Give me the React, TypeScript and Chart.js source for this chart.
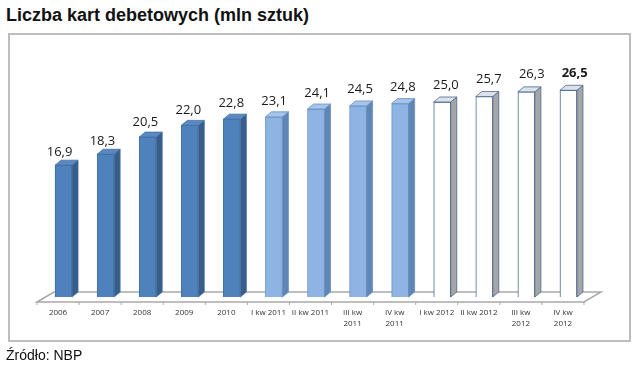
import { useEffect, useRef } from "react";
import { Chart, registerables } from "chart.js";

Chart.register(...registerables);

const titleText = "Liczba kart debetowych (mln sztuk)";
const sourceText = "Źródło: NBP";

const categories: (string | string[])[] = [
  "2006",
  "2007",
  "2008",
  "2009",
  "2010",
  "I kw 2011",
  "II kw 2011",
  ["III kw", "2011"],
  ["IV kw", "2011"],
  "I kw 2012",
  "II kw 2012",
  ["III kw", "2012"],
  ["IV kw", "2012"],
];

const values = [16.9, 18.3, 20.5, 22.0, 22.8, 23.1, 24.1, 24.5, 24.8, 25.0, 25.7, 26.3, 26.5];

const groups = [
  "annual", "annual", "annual", "annual", "annual",
  "q2011", "q2011", "q2011", "q2011",
  "q2012", "q2012", "q2012", "q2012",
];

const valueLabels = values.map((v) => v.toFixed(1).replace(".", ","));
const boldLabelIndexes = [12];

const yMin = 0;
const yMax = 30;

const palette: Record<string, { front: string; border: string; side: string; top: string }> = {
  annual: { front: "#4f81bd", border: "#41719f", side: "#385d8a", top: "#5a88c0" },
  q2011: { front: "#8db4e2", border: "#6990c2", side: "#5f86b6", top: "#a6c3e8" },
  q2012: { front: "#ffffff", border: "#4a6890", side: "#a6a6a6", top: "#dde2ea" },
};

const DEPTH_X = 6;
const DEPTH_Y = -5;
const BAR_SHIFT = 5.5;

const threeDPlugin = {
  id: "threeD",
  beforeDatasetsDraw(chart: any) {
    const { ctx, chartArea } = chart;
    const frontY = chartArea.bottom + 5;
    const fdx = 17;
    const fdy = -10;
    const left = chartArea.left;
    const right = chartArea.right;
    ctx.save();
    ctx.beginPath();
    ctx.moveTo(left, frontY);
    ctx.lineTo(left + fdx, frontY + fdy);
    ctx.lineTo(right + fdx, frontY + fdy);
    ctx.lineTo(right, frontY);
    ctx.closePath();
    ctx.fillStyle = "#ffffff";
    ctx.fill();
    ctx.strokeStyle = "#a9a9a9";
    ctx.lineWidth = 1.5;
    ctx.stroke();
    const n = categories.length;
    const cw = (right - left) / n;
    ctx.beginPath();
    for (let k = 0; k <= n; k++) {
      const tx = left + k * cw;
      ctx.moveTo(tx, frontY);
      ctx.lineTo(tx, frontY + 3);
    }
    ctx.lineWidth = 1;
    ctx.stroke();
    ctx.restore();
    ctx.save();
    ctx.translate(BAR_SHIFT, 0);
  },
  afterDatasetsDraw(chart: any) {
    const { ctx, scales } = chart;
    const meta = chart.getDatasetMeta(0);
    const y0 = scales.y.getPixelForValue(values[0]);
    meta.data.forEach((bar: any, i: number) => {
      const p = bar.getProps(["x", "y", "base", "width"], true);
      const l = p.x - p.width / 2;
      const r = p.x + p.width / 2;
      const top = p.y;
      const base = p.base;
      const c = palette[groups[i]];
      ctx.beginPath();
      ctx.moveTo(r, top);
      ctx.lineTo(r + DEPTH_X, top + DEPTH_Y);
      ctx.lineTo(r + DEPTH_X, base + DEPTH_Y);
      ctx.lineTo(r, base);
      ctx.closePath();
      ctx.fillStyle = c.side;
      ctx.fill();
      ctx.strokeStyle = c.border;
      ctx.lineWidth = 0.8;
      ctx.stroke();
      ctx.beginPath();
      ctx.moveTo(l, top);
      ctx.lineTo(l + DEPTH_X, top + DEPTH_Y);
      ctx.lineTo(r + DEPTH_X, top + DEPTH_Y);
      ctx.lineTo(r, top);
      ctx.closePath();
      ctx.fillStyle = c.top;
      ctx.fill();
      ctx.stroke();
      const bold = boldLabelIndexes.includes(i);
      ctx.font = `${bold ? "bold " : ""}13px "Open Sans"`;
      ctx.fillStyle = "#1a1a1a";
      ctx.textAlign = "center";
      ctx.textBaseline = "alphabetic";
      const lx = p.x - 4 + i * 0.85;
      const ly = top - 9 - (y0 - top) * 0.06;
      ctx.fillText(valueLabels[i], lx, ly);
    });
    ctx.restore();
  },
};

export default function App() {
  const canvasRef = useRef<HTMLCanvasElement | null>(null);

  useEffect(() => {
    const canvas = canvasRef.current;
    if (!canvas) return;
    const chart = new Chart(canvas, {
      type: "bar",
      data: {
        labels: categories,
        datasets: [
          {
            data: values,
            backgroundColor: groups.map((g) => palette[g].front),
            borderColor: groups.map((g) => palette[g].border),
            borderWidth: 1,
            barThickness: 17,
          },
        ],
      },
      options: {
        animation: false,
        responsive: false,
        devicePixelRatio: 1,
        layout: { padding: { left: 37, right: 56, top: 63, bottom: 0 } },
        plugins: {
          legend: { display: false },
          tooltip: { enabled: false },
          title: { display: false },
        },
        scales: {
          x: {
            grid: { display: false, drawTicks: false },
            border: { display: false },
            ticks: {
              autoSkip: false,
              maxRotation: 0,
              minRotation: 0,
              padding: 10,
              color: "#333333",
              font: { family: "Open Sans", size: 8, lineHeight: 1.375 },
            },
            afterFit: (scale: any) => {
              scale.height = 76;
            },
          },
          y: {
            display: false,
            min: yMin,
            max: yMax,
          },
        },
      },
      plugins: [threeDPlugin],
    });
    return () => chart.destroy();
  }, []);

  return (
    <div
      style={{
        position: "absolute",
        left: 0,
        top: 0,
        width: 640,
        height: 373,
        background: "#ffffff",
        overflow: "hidden",
      }}
    >
      <div
        style={{
          position: "absolute",
          left: 6,
          top: 6,
          fontFamily: '"Liberation Sans", Arial, sans-serif',
          fontWeight: "bold",
          fontSize: 18,
          lineHeight: "18px",
          color: "#111111",
          whiteSpace: "nowrap",
        }}
      >
        {titleText}
      </div>
      <div
        style={{
          position: "absolute",
          left: 8,
          top: 33,
          width: 619,
          height: 305,
          border: "2px solid #bdbdbd",
          boxSizing: "content-box",
        }}
      />
      <canvas
        ref={canvasRef}
        width={640}
        height={373}
        style={{ position: "absolute", left: 0, top: 0, width: 640, height: 373 }}
      />
      <div
        style={{
          position: "absolute",
          left: 6,
          top: 348,
          fontFamily: '"Liberation Sans", Arial, sans-serif',
          fontSize: 14,
          lineHeight: "14px",
          color: "#111111",
          whiteSpace: "nowrap",
        }}
      >
        {sourceText}
      </div>
    </div>
  );
}
